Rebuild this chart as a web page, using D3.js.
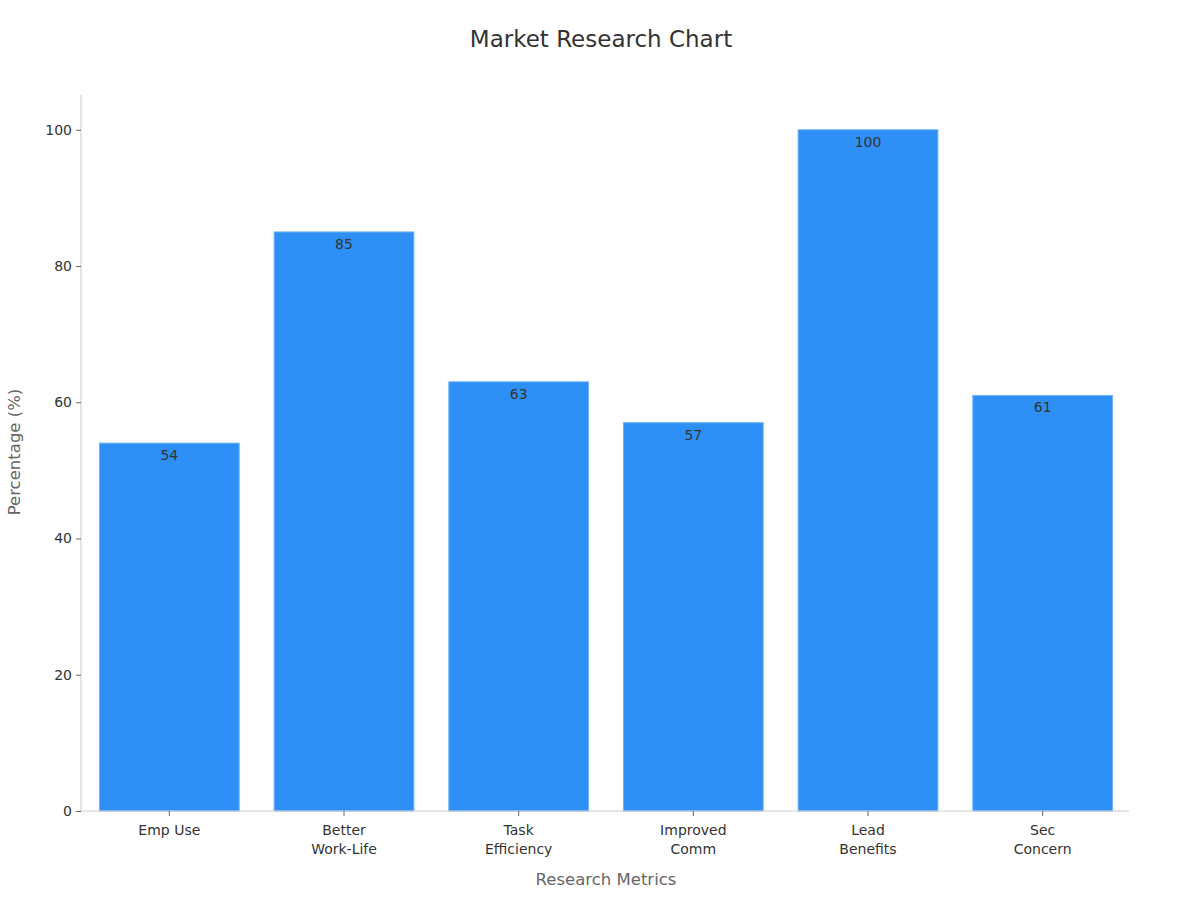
<!DOCTYPE html>
<html><head><meta charset="utf-8">
<script src="https://cdn.jsdelivr.net/npm/d3@7"></script>
<style>body{margin:0;background:#fff;font-family:"DejaVu Sans",sans-serif;}</style>
</head><body><svg id="c" width="1200" height="900"></svg>
<script>
const categories = [["Emp Use"],["Better","Work-Life"],["Task","Efficiency"],["Improved","Comm"],["Lead","Benefits"],["Sec","Concern"]];
const values = [54, 85, 63, 57, 100, 61];
const yTicks = [0, 20, 40, 60, 80, 100];

(function(){
const svg = d3.select("#c");
const mL = 81, mR = 1129, mT = 95, mB = 811;
const keys = categories.map(c => c.join(" "));
const x = d3.scaleBand().domain(keys).range([mL + 1, mR + 1]).paddingInner(0.2).paddingOuter(0.1);
const y = d3.scaleLinear().domain([0, 105.1]).range([mB, mT]);

svg.append("text").attr("x", 601).attr("y", 47).attr("text-anchor", "middle")
  .attr("font-size", 23).attr("fill", "#333").text("Market Research Chart");

svg.selectAll("rect.bar").data(values).enter().append("rect")
  .attr("x", (d, i) => x(keys[i])).attr("width", x.bandwidth())
  .attr("y", d => y(d)).attr("height", d => y(0) - y(d))
  .attr("fill", "#2e90f6").attr("stroke", "#6fb3f7").attr("stroke-width", 1);

svg.selectAll("text.val").data(values).enter().append("text")
  .attr("x", (d, i) => x(keys[i]) + x.bandwidth() / 2).attr("y", d => y(d) + 17)
  .attr("text-anchor", "middle").attr("font-size", 14).attr("fill", "#333").text(d => d);

const ya = svg.append("g").attr("transform", `translate(${mL},0)`)
  .call(d3.axisLeft(y).tickValues(yTicks).tickSize(5).tickPadding(4));
ya.select(".domain").attr("stroke", "#ccc").attr("d", `M0,${mT}V${mB}`);
ya.selectAll(".tick line").attr("stroke", "#666");
ya.selectAll(".tick text").attr("font-size", 14).attr("fill", "#333").attr("font-family", "DejaVu Sans");

const xa = svg.append("g").attr("transform", `translate(0,${mB})`)
  .call(d3.axisBottom(x).tickSize(5).tickFormat(""));
xa.select(".domain").attr("stroke", "#ccc").attr("d", `M${mL},0H${mR}`);
xa.selectAll(".tick line").attr("stroke", "#666");
xa.selectAll(".tick").each(function(d, i) {
  const t = d3.select(this).append("text").attr("fill", "#333").attr("font-size", 14)
    .attr("font-family", "DejaVu Sans").attr("text-anchor", "middle");
  categories[i].forEach((line, j) => {
    t.append("tspan").attr("x", 0).attr("y", 24 + j * 19).text(line);
  });
});

svg.append("text").attr("x", 606).attr("y", 885).attr("text-anchor", "middle")
  .attr("font-size", 16.5).attr("fill", "#666").text("Research Metrics");
svg.append("text").attr("transform", `translate(20,452) rotate(-90)`)
  .attr("text-anchor", "middle").attr("font-size", 16.5).attr("fill", "#666").text("Percentage (%)");
})();
</script></body></html>
